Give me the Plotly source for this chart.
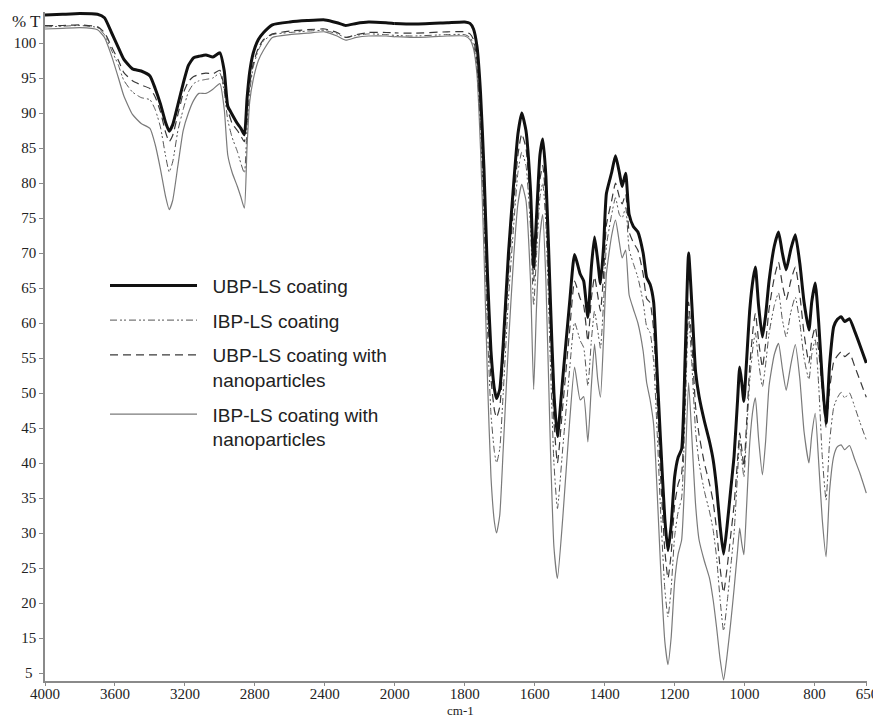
import plotly.graph_objects as go

# Wavenumber grid (cm-1)
wavenumber = [4000, 3900, 3800, 3700, 3660, 3620, 3580, 3550, 3500, 3450,
              3400, 3370, 3340, 3310, 3290, 3270, 3240, 3210, 3180, 3150,
              3120, 3080, 3040, 3000, 2975, 2955, 2930, 2900, 2880, 2860,
              2845, 2830, 2810, 2780, 2750, 2700, 2600, 2500, 2400, 2330,
              2280, 2220, 2150, 2050, 1950, 1850, 1800, 1785, 1775, 1765,
              1755, 1745, 1735, 1725, 1715, 1709, 1700, 1690, 1675, 1660,
              1648, 1637, 1625, 1612, 1603, 1595, 1585, 1577, 1568, 1555,
              1545, 1535, 1520, 1500, 1486, 1470, 1460, 1448, 1438, 1429,
              1420, 1412, 1403, 1395, 1380, 1369, 1358, 1350, 1340, 1330,
              1318, 1305, 1290, 1280, 1270, 1260, 1250, 1240, 1228, 1219,
              1210, 1200, 1190, 1180, 1170, 1160, 1150, 1140, 1130, 1115,
              1100, 1090, 1080, 1070, 1060, 1050, 1040, 1030, 1020, 1014,
              1008, 1002, 995, 985, 975, 969, 960, 949, 940, 930,
              915, 903, 892, 881, 868, 855, 842, 830, 816, 808,
              798, 788, 778, 767, 757, 745, 735, 724, 714, 700,
              685, 670, 652]

ubp_ls = [104.0, 104.1, 104.2, 104.1, 103.6, 101.5, 99.3, 97.7, 96.3, 96.0,
          95.3, 93.5, 91.3, 88.6, 87.4, 88.3, 91.2, 94.2, 96.8, 97.9,
          98.1, 98.3, 98.0, 98.6, 96.0, 91.0, 89.8, 88.5, 87.8, 86.9,
          92.0, 95.8, 98.5, 100.5, 101.5, 102.6, 103.0, 103.2, 103.3, 102.9,
          102.5, 102.8, 103.0, 102.9, 102.7, 102.9, 103.0, 102.8, 102.0, 99.5,
          93.0, 82.0, 67.0, 56.0, 50.5, 49.2, 50.5, 57.0, 70.0, 80.0,
          87.0, 90.0, 87.5, 79.0, 68.0, 75.0, 84.0, 86.3, 81.0, 63.0,
          50.0, 43.8, 52.0, 63.0, 69.8, 67.0, 66.0, 60.8, 68.0, 72.3,
          69.0, 65.6, 71.0, 78.5, 81.5, 83.9, 81.5, 79.5, 81.4, 75.5,
          73.8, 73.0, 70.0, 66.5, 65.5, 63.0, 53.0, 43.0, 32.0, 27.5,
          31.0, 38.0, 40.8, 42.0, 55.0, 70.0, 62.0, 53.0, 49.5, 46.0,
          43.0, 40.5, 36.5, 31.0, 27.0, 31.0, 36.0, 41.0, 49.0, 53.7,
          51.5, 48.8, 54.0, 62.0, 66.5, 68.0, 62.5, 58.0, 61.0, 66.0,
          71.0, 73.0, 70.0, 67.6, 70.5, 72.6, 68.5, 63.0, 59.0, 63.0,
          65.7, 60.0, 52.0, 45.7, 54.0, 59.5, 60.5, 60.9, 60.2, 60.6,
          58.8, 56.8, 54.3]

ibp_ls = [102.3, 102.4, 102.5, 102.2, 101.2, 99.0, 96.8, 94.7, 93.0, 92.2,
          91.9, 90.5, 88.0, 83.8, 81.6, 83.0, 87.5, 90.5, 93.0, 94.2,
          94.6, 94.8, 95.0, 95.7, 93.0, 89.0, 86.5, 84.5, 82.8, 81.4,
          88.0, 93.0, 96.5, 99.0, 100.3, 101.2, 101.5, 101.7, 101.8, 101.3,
          100.8, 101.1, 101.3, 101.2, 101.0, 101.2, 101.2, 100.8, 99.8, 96.5,
          88.0, 75.0, 59.0, 47.0, 41.5, 40.0, 42.0, 50.0, 63.5, 74.0,
          81.5, 84.4, 82.5, 73.5, 62.5, 69.5, 78.0, 80.0, 74.0, 54.0,
          40.0, 33.5, 42.0, 53.5, 60.1, 57.5, 56.5, 51.0, 57.5, 61.7,
          59.0, 56.4, 63.0, 71.0, 75.5, 77.9, 75.5, 75.0, 76.5, 70.5,
          68.5, 66.5, 63.0, 59.5, 58.6, 54.5, 44.5, 33.0, 22.0, 18.0,
          22.0, 29.5, 33.0, 35.0, 47.0, 61.0, 53.5, 44.5, 40.0, 36.0,
          33.0, 30.5, 26.5, 20.5, 16.0, 20.0, 25.0, 30.0, 38.5, 43.3,
          40.5, 38.0, 43.5, 52.0, 57.0, 58.6, 54.5, 50.9, 54.0, 58.5,
          62.5, 64.3, 60.5, 58.0, 61.5, 63.7, 60.0, 55.0, 51.9, 55.5,
          57.6, 51.0, 41.0, 34.7, 43.0, 48.0, 49.3, 50.1, 49.3, 50.0,
          48.0, 45.8, 43.3]

ubp_ls_nano = [102.5, 102.5, 102.6, 102.3, 101.5, 99.5, 97.5, 95.8, 94.6, 94.0,
               93.5, 92.3, 90.2, 87.2, 85.9, 86.8, 89.8, 92.8, 94.5, 95.2,
               95.5, 95.7, 95.6, 96.1, 93.5, 90.5, 88.5, 87.5, 86.7, 85.9,
               90.5, 94.0, 97.0, 99.3, 100.5, 101.3, 101.7, 101.9, 102.0, 101.5,
               100.8, 101.2, 101.5, 101.5, 101.4, 101.6, 101.6, 101.3, 100.5, 97.5,
               90.0, 78.0, 63.0, 52.0, 47.5, 46.5, 48.0, 54.5, 67.0, 77.0,
               84.0, 87.0, 85.0, 76.5, 66.0, 72.5, 80.5, 82.5, 77.0, 59.0,
               46.0, 40.0, 48.0, 59.0, 66.0, 63.5, 62.5, 57.4, 63.5, 66.6,
               64.0, 61.7, 67.0, 74.0, 77.5, 80.0, 78.0, 77.0, 78.4, 73.0,
               71.5, 70.4, 67.0, 63.5, 62.9, 59.0, 49.0, 38.0, 27.5, 23.5,
               27.0, 34.0, 37.0, 38.5, 50.0, 63.0, 56.5, 48.0, 44.0, 40.0,
               37.0, 34.5, 30.5, 25.0, 21.5, 25.0, 29.5, 34.0, 40.5, 44.3,
               42.0, 39.5, 45.0, 54.0, 59.5, 61.4, 57.5, 53.7, 57.0, 62.0,
               66.5, 68.7, 65.5, 63.3, 66.0, 68.0, 64.0, 58.5, 54.3, 57.5,
               59.4, 56.0, 50.5, 45.1, 50.5, 54.5, 55.3, 55.9, 55.2, 55.7,
               53.8, 51.8, 49.4]

ibp_ls_nano = [102.0, 102.1, 102.2, 101.9, 100.8, 98.2, 95.0, 92.5, 89.8, 88.5,
               87.8, 85.5, 82.0, 78.0, 76.2, 77.5, 82.5, 87.5, 90.0, 91.8,
               92.8, 92.8, 93.4, 94.2, 90.5, 84.0, 81.5, 79.5, 78.0, 76.4,
               85.0, 91.5, 94.7, 97.5, 99.0, 100.8, 101.2, 101.4, 101.6, 101.0,
               100.4, 100.8, 101.0, 101.0, 100.8, 101.0, 101.0, 100.5, 99.2, 95.5,
               85.0, 70.0, 52.0, 38.0, 31.5, 30.0, 32.5, 42.0, 57.0, 69.5,
               77.0, 79.8, 77.5, 66.0, 50.5, 62.0, 72.5, 75.5, 66.0, 42.0,
               28.0, 23.5, 32.0, 46.0, 53.7, 49.0, 49.5, 43.0, 51.0, 57.0,
               52.0, 49.4, 58.0, 67.0, 72.5, 74.7, 71.5, 69.3, 70.4, 64.0,
               62.0, 60.0, 56.0, 51.5, 49.0, 45.5, 36.0, 25.0, 14.5, 11.2,
               15.0, 23.0, 27.0, 29.0, 39.0, 51.5, 43.0, 34.0, 29.0, 26.0,
               23.5, 20.5, 16.5, 12.0, 9.0, 12.5, 17.0, 22.0, 27.5, 30.7,
               28.5, 26.9, 33.0, 43.0, 48.0, 49.3, 43.5, 38.3, 43.0, 51.0,
               55.5, 57.1, 53.5, 50.4, 54.0, 56.9, 52.0, 44.5, 40.0, 44.0,
               47.1, 40.0, 32.0, 26.6, 36.0, 41.0, 42.3, 42.6, 41.9, 42.5,
               40.5, 38.5, 35.7]

for arr in (ubp_ls, ibp_ls, ubp_ls_nano, ibp_ls_nano):
    assert len(arr) == len(wavenumber), len(arr)

y_tickvals = [10, 15, 20, 25, 30, 35, 40, 45, 50, 55, 60, 65, 70, 75, 80, 85, 90, 95, 100]
y_ticktext = ["5\u00a0", "15", "20", "25", "30", "35", "40", "45", "50", "55", "60",
              "65", "70", "75", "80", "85", "90", "95", "100"]
x_ticks_high = [4000, 3600, 3200, 2800, 2400]
x_ticks_low = [2000, 1800, 1600, 1400, 1200, 1000, 800, 650]

pad = "\u00a0\u00a0"
series = [
    # name, values, color, width, dash, legend rank
    (pad + "IBP-LS coating with<br>" + pad + "nanoparticles", ibp_ls_nano, "#7a7a7a", 1.2, "solid", 4),
    (pad + "IBP-LS coating", ibp_ls, "#555555", 1.0, "7px,3px,2px,2px,2px,3px", 2),
    (pad + "UBP-LS coating with<br>" + pad + "nanoparticles", ubp_ls_nano, "#3a3a3a", 1.2, "8px,5px", 3),
    (pad + "UBP-LS coating", ubp_ls, "#111111", 3.0, "solid", 1),
]

fig = go.Figure()
for name, vals, color, width, dash, rank in series:
    for xa, show in (("x", True), ("x2", False)):
        fig.add_trace(go.Scatter(
            x=wavenumber, y=vals, mode="lines", name=name,
            line=dict(color=color, width=width, dash=dash, shape="spline", smoothing=0.5),
            xaxis=xa, yaxis="y", showlegend=show, legendrank=rank,
            legendgroup=name, hoverinfo="skip"))

split = 350 / 822.5
serif = "Liberation Serif"
axis_common = dict(showline=True, linecolor="#8a8a8a", linewidth=1.5, ticks="outside",
                   tickcolor="#8a8a8a", showgrid=False, zeroline=False,
                   automargin=False)
x_font = dict(family=serif, size=15, color="#222")
y_font = dict(family=serif, size=15, color="#222")

# The page body adds an 8px offset, so the figure is sized to fit the window
fig.update_layout(
    width=873, height=710,
    margin=dict(l=37, r=14, t=4, b=37),
    paper_bgcolor="white", plot_bgcolor="white",
    xaxis=dict(domain=[0, split], range=[4000, 2000], tickvals=x_ticks_high,
               anchor="y", tickfont=x_font, ticklen=3, ticklabelstandoff=-5,
               **axis_common),
    xaxis2=dict(domain=[split, 1], range=[2000, 650], tickvals=x_ticks_low,
                anchor="y", tickfont=x_font, ticklen=3, ticklabelstandoff=-5,
                **axis_common),
    yaxis=dict(range=[8.86, 104.43], tickvals=y_tickvals, ticktext=y_ticktext,
               anchor="x", tickfont=y_font, ticklen=4, **axis_common),
    legend=dict(x=0.073, y=0.6195, xanchor="left", yanchor="top",
                bgcolor="rgba(0,0,0,0)", itemwidth=87, valign="top",
                tracegroupgap=7, font=dict(family="Liberation Sans", size=19, color="#222")),
    showlegend=True,
    annotations=[
        dict(text="% T", xref="paper", yref="paper", x=-0.002, y=0.9865,
             xanchor="right", yanchor="middle", showarrow=False,
             font=dict(family=serif, size=17, color="#222")),
        dict(text="cm-1", xref="paper", yref="paper", x=0.505, y=-0.0448,
             xanchor="center", yanchor="middle", showarrow=False,
             font=dict(family=serif, size=13, color="#222")),
    ],
)

fig.write_html("out.html")
